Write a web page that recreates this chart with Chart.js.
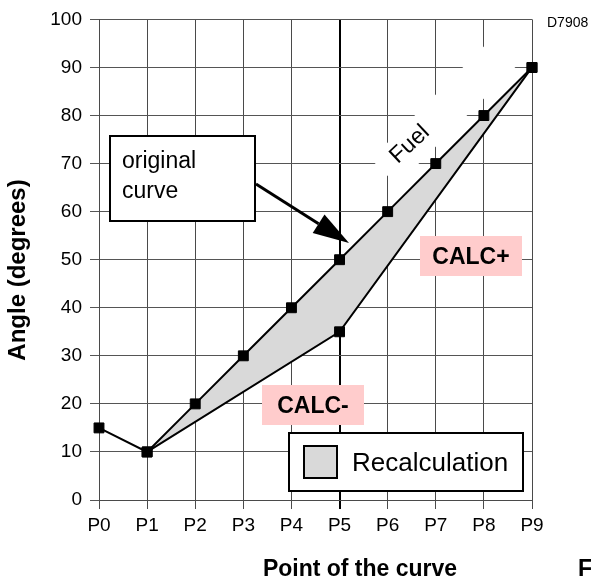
<!DOCTYPE html>
<html>
<head>
<meta charset="utf-8">
<script src="https://cdn.jsdelivr.net/npm/chart.js@4.4.1/dist/chart.umd.min.js"></script>
<style>
  html, body { margin: 0; padding: 0; background: #fff; }
  canvas { display: block; }
</style>
</head>
<body>
<canvas id="c" width="591" height="581"></canvas>
<script>
// Curve points along the x axis and the fuel angle at each point
const curvePoints = ['P0', 'P1', 'P2', 'P3', 'P4', 'P5', 'P6', 'P7', 'P8', 'P9'];
const originalAngles = [15, 10, 20, 30, 40, 50, 60, 70, 80, 90];
// Recalculated (CALC-) curve: only a few support points
const recalcIndex = [1, 5, 9];
const recalcAngles = [10, 35, 90];
// Angle axis
const angleMin = 0;
const angleMax = 100;
const angleStep = 10;

const FONT = '"Liberation Sans", Arial, Helvetica, sans-serif';
const SHADE = '#d9d9d9';
const PINK = '#ffcccc';

const originalData = originalAngles.map((v, i) => ({ x: i, y: v }));
const recalcData = recalcIndex.map((idx, i) => ({ x: idx, y: recalcAngles[i] }));

function text(ctx, str, x, y, size, bold, align) {
  ctx.font = (bold ? 'bold ' : '') + size + 'px ' + FONT;
  ctx.textAlign = align || 'left';
  ctx.textBaseline = 'alphabetic';
  ctx.fillStyle = '#000';
  ctx.fillText(str, x, y);
}

const decorations = {
  id: 'decorations',
  beforeDatasetsDraw(chart) {
    // white backing band beside the "Fuel" label, running along the curve
    const { ctx, scales: { x, y } } = chart;
    const ang = Math.atan2(y.getPixelForValue(90) - y.getPixelForValue(60),
                           x.getPixelForValue(9) - x.getPixelForValue(6));
    const cx = x.getPixelForValue(6.46), cy = y.getPixelForValue(74);
    ctx.save();
    ctx.translate(cx, cy);
    ctx.rotate(ang);
    ctx.fillStyle = '#fff';
    ctx.fillRect(-38, -17, 178, 37);
    ctx.restore();
  },
  afterDraw(chart) {
    const { ctx, scales: { x, y } } = chart;
    ctx.save();

    // "Fuel" label along the curve
    ctx.save();
    ctx.translate(x.getPixelForValue(6.46), y.getPixelForValue(74));
    ctx.rotate(-43 * Math.PI / 180);
    ctx.font = '23px ' + FONT;
    ctx.textAlign = 'center';
    ctx.textBaseline = 'middle';
    ctx.fillStyle = '#000';
    ctx.fillText('Fuel', 0, 0);
    ctx.restore();

    // "original curve" callout box
    ctx.fillStyle = '#fff';
    ctx.fillRect(110, 136, 145, 85);
    ctx.lineWidth = 2;
    ctx.strokeStyle = '#000';
    ctx.strokeRect(110, 136, 145, 85);
    text(ctx, 'original', 122, 168, 23, false);
    text(ctx, 'curve', 122, 198, 23, false);

    // arrow from the callout to the original curve
    const tipX = 349, tipY = 243;
    const sx = 256, sy = 184;
    const a = Math.atan2(tipY - sy, tipX - sx);
    const headLen = 36, headHalf = 11;
    const bx = tipX - headLen * Math.cos(a), by = tipY - headLen * Math.sin(a);
    ctx.beginPath();
    ctx.moveTo(sx, sy);
    ctx.lineTo(bx, by);
    ctx.lineWidth = 3;
    ctx.stroke();
    ctx.beginPath();
    ctx.moveTo(tipX, tipY);
    ctx.lineTo(bx + headHalf * Math.sin(a), by - headHalf * Math.cos(a));
    ctx.lineTo(bx - headHalf * Math.sin(a), by + headHalf * Math.cos(a));
    ctx.closePath();
    ctx.fillStyle = '#000';
    ctx.fill();

    // CALC+ / CALC- tags
    ctx.fillStyle = PINK;
    ctx.fillRect(420, 236, 102, 40);
    text(ctx, 'CALC+', 471, 264, 23, true, 'center');
    ctx.fillStyle = PINK;
    ctx.fillRect(262, 385, 102, 40);
    text(ctx, 'CALC-', 313, 413, 23, true, 'center');

    // legend
    ctx.fillStyle = '#fff';
    ctx.fillRect(289, 433, 234, 58);
    ctx.lineWidth = 2;
    ctx.strokeStyle = '#000';
    ctx.strokeRect(289, 433, 234, 58);
    ctx.fillStyle = chart.data.datasets[1].backgroundColor;
    ctx.fillRect(304, 446, 33, 32);
    ctx.strokeRect(304, 446, 33, 32);
    text(ctx, chart.data.datasets[1].label, 352, 471, 26, false);

    // axis titles and figure marks
    text(ctx, 'D7908', 547, 27, 14, false);
    text(ctx, 'Point of the curve', 360, 576, 23, true, 'center');
    text(ctx, 'F', 578, 576, 23, true);
    ctx.save();
    ctx.translate(25, 270);
    ctx.rotate(-Math.PI / 2);
    text(ctx, 'Angle (degrees)', 0, 0, 24, true, 'center');
    ctx.restore();

    ctx.restore();
  }
};

new Chart(document.getElementById('c'), {
  type: 'line',
  data: {
    datasets: [
      {
        label: 'Fuel',
        data: originalData,
        borderColor: '#000',
        borderWidth: 2,
        backgroundColor: '#000',
        pointStyle: 'rect',
        pointRadius: 7,
        pointBorderWidth: 1,
        pointBackgroundColor: '#000',
        pointBorderColor: '#000',
        tension: 0,
        fill: false,
        clip: false
      },
      {
        label: 'Recalculation',
        data: recalcData,
        borderColor: '#000',
        borderWidth: 2,
        backgroundColor: SHADE,
        pointStyle: 'rect',
        pointRadius: 7,
        pointBorderWidth: 1,
        pointBackgroundColor: '#000',
        pointBorderColor: '#000',
        tension: 0,
        fill: { target: 0 },
        clip: false
      }
    ]
  },
  options: {
    responsive: false,
    animation: false,
    devicePixelRatio: 1,
    layout: { padding: { top: 16, right: 59, left: 0, bottom: 0 } },
    plugins: {
      legend: { display: false },
      tooltip: { enabled: false }
    },
    scales: {
      x: {
        type: 'linear',
        min: 0,
        max: curvePoints.length - 1,
        afterFit(s) { s.height = 81; },
        ticks: {
          stepSize: 1,
          autoSkip: false,
          maxRotation: 0,
          padding: 5,
          color: '#000',
          font: { family: FONT, size: 19 },
          callback: (v) => curvePoints[v]
        },
        grid: {
          color: (c) => (c.tick && c.tick.value === 5) ? '#000' : '#4a4a4a',
          lineWidth: (c) => (c.tick && c.tick.value === 5) ? 2 : 1,
          tickLength: 9
        },
        border: { color: '#4a4a4a', width: 1 }
      },
      y: {
        min: angleMin,
        max: angleMax,
        afterFit(s) { s.width = 99; },
        ticks: {
          stepSize: angleStep,
          padding: 8,
          color: '#000',
          font: { family: FONT, size: 19 }
        },
        grid: {
          color: '#555',
          lineWidth: 1,
          tickLength: 9
        },
        border: { color: '#4a4a4a', width: 1 }
      }
    }
  },
  plugins: [decorations]
});
</script>
</body>
</html>
